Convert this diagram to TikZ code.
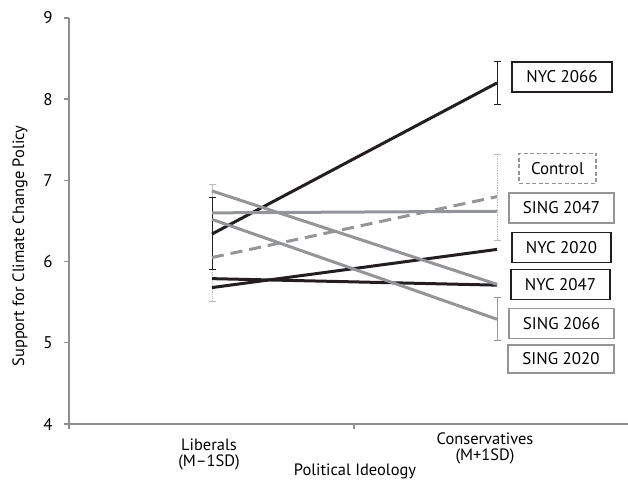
\documentclass[tikz,border=0pt]{standalone}
\usepackage{fontspec}
\setmainfont{PT Sans}
\usepackage{tikz}
\usetikzlibrary{arrows.meta, positioning}
\definecolor{inkblack}{HTML}{231F20}
\definecolor{inkgray}{HTML}{939598}
\definecolor{barlight}{HTML}{BCBEC0}
\definecolor{axisgray}{HTML}{8C8E91}
\tikzset{
  axisline/.style={draw=axisgray, line width=1.4bp},
  ticklab/.style={font=\fontsize{17}{20}\selectfont, inner sep=0pt},
  catlab/.style={font=\fontsize{16.5}{20}\selectfont, align=center, inner sep=0pt},
  blackline/.style={line width=3bp, inkblack},
  grayline/.style={line width=3bp, inkgray},
  dashline/.style={line width=3bp, inkgray, dash pattern=on 12bp off 7bp},
  errbar/.style={{Bar[width=7bp]}-{Bar[width=7bp]}, line width=0.9bp},
  keybox/.style={minimum height=30bp, font=\fontsize{17}{20}\selectfont,
                 inner sep=2bp, fill=white},
  blackkey/.style={keybox, draw=inkblack, line width=1.5bp},
  graykey/.style={keybox, draw=inkgray, line width=1.8bp},
  ctrlkey/.style={keybox, draw=inkgray, line width=1.3bp, dash pattern=on 4bp off 2.5bp},
}

\begin{document}
\begin{tikzpicture}[x=1bp, y=1bp]
  \useasboundingbox (0,0) rectangle (628,482);

  %% DATA AREA (y in scale units)
  \begin{scope}[y=81.2bp, yshift=-266.8bp]

    %% axes
    \draw[axisline] (69,9) -- (69,4) -- (628,4);
    \foreach \v in {4,...,9} {
      \draw[axisline] (64,\v) -- (69,\v);
      \node[ticklab] (tick\v) at (48,\v) {\v};
    }
    \draw[axisline] (69,4) -- ++(0,-5bp);
    \draw[axisline] (354,4) -- ++(0,-5bp);

    %% error bars, liberals
    \draw[line width=0.9bp, barlight, {Bar[width=7bp]}-] (212,6.96) -- (212,5.9);
    \draw[line width=0.9bp, barlight, densely dotted] (212,5.9) -- (212,5.51);
    \draw[barlight, line width=0.9bp] (208.5,5.51) -- (215.5,5.51);
    \draw[errbar, inkblack] (212,6.79) -- (212,5.90);

    %% series
    \draw[blackline] (212,6.34) -- (497,8.20);
    \draw[blackline] (212,5.68) -- (497,6.15);
    \draw[blackline] (212,5.79) -- (497,5.71);
    \draw[grayline] (212,6.60) -- (497,6.62);
    \draw[grayline] (212,6.52) -- (497,5.29);
    \draw[grayline] (212,6.87) -- (497,5.72);
    \draw[dashline] (212,6.05) -- (497,6.80);

    %% error bars, conservatives
    \draw[errbar, inkblack] (497,8.47) -- (497,7.93);
    \draw[line width=0.7bp, barlight, densely dotted] (497,7.32) -- (497,6.26);
    \draw[barlight, line width=0.8bp] (493.5,7.32) -- (500.5,7.32);
    \draw[barlight, line width=0.8bp] (493.5,6.26) -- (500.5,6.26);
    \draw[errbar, inkgray] (497,5.56) -- (497,5.02);

  \end{scope}

  %% KEY
  \node[blackkey, minimum width=100bp] (nyc66) at (562,405) {NYC 2066};
  \node[ctrlkey, minimum width=77bp] (ctl) at (557.5,313.5) {Control};
  \node[graykey, minimum width=105bp] (sing47) at (561.5,274) {SING 2047};
  \node[blackkey, minimum width=99bp] (nyc20) at (561.5,234.5) {NYC 2020};
  \node[blackkey, minimum width=99bp] (nyc47) at (560.5,197.5) {NYC 2047};
  \node[graykey, minimum width=105bp] (sing66) at (561.5,158.5) {SING 2066};
  \node[graykey, minimum width=106bp, minimum height=28bp] (sing20) at (561,123) {SING 2020};

  %% axis titles
  \node[catlab] (lib) at (209,37) {Liberals};
  \node[catlab, below=3bp of lib] (libsd) {(M--1SD)};
  \node[catlab] (cons) at (485,43) {Conservatives};
  \node[catlab, below=3bp of cons] (conssd) {(M+1SD)};
  \node[catlab] (xtitle) at (355,11) {Political Ideology};
  \node[catlab, rotate=90] (ytitle) at (20,236) {Support for Climate Change Policy};

\end{tikzpicture}
\end{document}
